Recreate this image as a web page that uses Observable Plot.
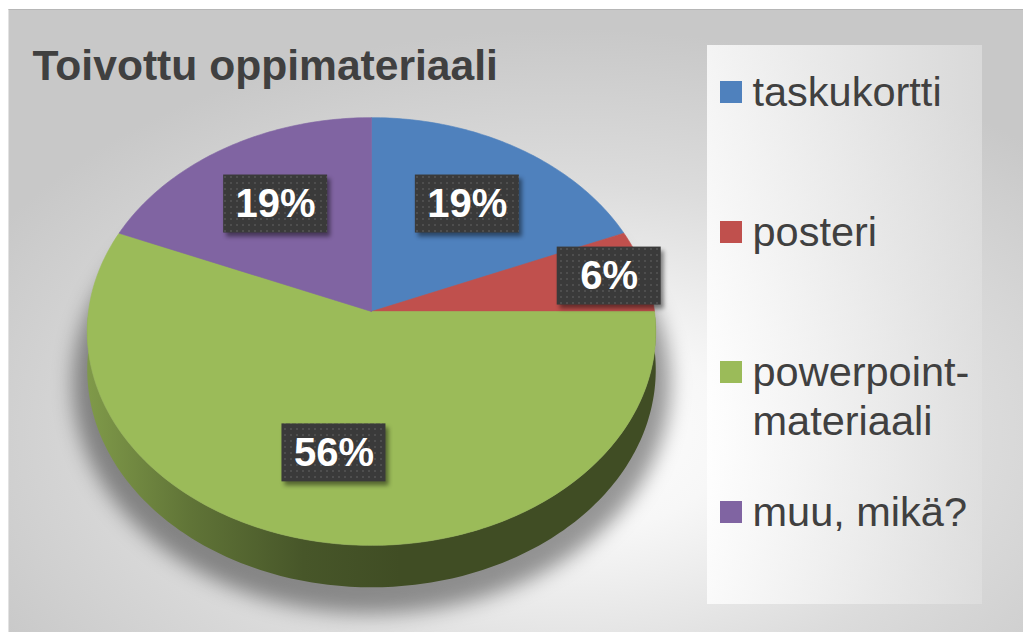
<!DOCTYPE html>
<html>
<head>
<meta charset="utf-8">
<script src="https://cdn.jsdelivr.net/npm/d3@7"></script>
<script src="https://cdn.jsdelivr.net/npm/@observablehq/plot@0.6"></script>
<style>
html, body { margin: 0; padding: 0; background: #ffffff; }
#wrap { position: relative; width: 1023px; height: 632px; overflow: hidden; background: #fff; }
#panel { position: absolute; left: 8px; top: 9px; width: 1015px; height: 623px; box-sizing: border-box;
  border-top: 1px solid #b6b6b6; border-left: 1px solid #e2e2e2;
  background: radial-gradient(ellipse 65% 65% at 55% 68%, #ffffff 0%, #f7f7f7 25%, #dcdcdc 62%, #c8c8c8 100%); }
#legendPanel { position: absolute; left: 707px; top: 45px; width: 275px; height: 559px;
  background: linear-gradient(to right, rgba(255,255,255,0.8), rgba(224,224,224,0.7)); }
#chart { position: absolute; left: 0; top: 0; }
</style>
</head>
<body>
<div id="wrap"><div id="panel"></div><div id="legendPanel"></div><div id="chart"></div></div>
<script>
// ---- data ----
const title = "Toivottu oppimateriaali";
const categories = ["taskukortti", "posteri", "powerpoint-materiaali", "muu, mikä?"];
const counts = [3, 1, 9, 3];
const colors = ["#4F81BD", "#C0504D", "#9BBB59", "#8064A2"];

// ---- geometry (3D perspective pie) ----
const W = 1023, H = 632;
const cx = 371, cy = 311, rx = 283, ry = 212, persp = 0.0935, depth = 38;
function proj(theta, r = 1, dz = 0) {
  const u = r * Math.sin(theta), v = r * Math.cos(theta);
  const s = 1 / (1 + persp * v);
  return [cx + rx * u * s, cy - ry * v * s + dz * s];
}
function arcPts(a0, a1, r, dz) {
  const n = Math.max(2, Math.ceil(Math.abs(a1 - a0) / (Math.PI / 180)));
  const pts = [];
  for (let j = 0; j <= n; ++j) pts.push(proj(a0 + (a1 - a0) * j / n, r, dz));
  return pts;
}

const total = d3.sum(counts);
const slices = categories.map((cat, i) => ({cat, i, count: counts[i], label: Math.round(counts[i] / total * 100) + "%"}));
const arcs = d3.pie().sort(null).value(d => d.count).startAngle(0).endAngle(2 * Math.PI)(slices);

// top faces
const topRows = arcs.flatMap(a => {
  const pts = [proj(0, 0), ...arcPts(a.startAngle, a.endAngle, 1, 0), proj(0, 0)];
  return pts.map(p => ({cat: a.data.cat, x: p[0], y: p[1]}));
});

// side faces (front half visible)
const sideMarks = [];
arcs.forEach(a => {
  const s0 = Math.max(a.startAngle, Math.PI / 2), s1 = Math.min(a.endAngle, 3 * Math.PI / 2);
  if (s0 < s1) {
    const pts = [...arcPts(s0, s1, 1, 0), ...arcPts(s1, s0, 1, depth)];
    sideMarks.push(Plot.line(pts.map(p => ({x: p[0], y: p[1]})), {x: "x", y: "y", fill: `url(#side-${a.data.i})`, stroke: "none", curve: "linear"}));
  }
});

// shadow
const shadowRows = arcPts(0, 2 * Math.PI, 1.05, depth + 12).map(p => ({x: p[0], y: p[1]}));

// data labels
const labelRows = arcs.map(a => {
  const m = (a.startAngle + a.endAngle) / 2;
  const share = a.data.count / total;
  const p = proj(m, share >= 0.15 ? 0.64 : 0.87, 0);
  return {cat: a.data.cat, label: a.data.label, x: p[0], y: p[1]};
});

// legend rows
const legendX = 720, legendTop = 92, legendStep = 140, sq = 22;
const legendSquares = categories.map((cat, i) => ({cat, yc: legendTop + i * legendStep}));
const legendLines = categories.flatMap((cat, i) =>
  cat.split(/(?<=-)/).map((line, j) => ({cat, line, y: legendTop + i * legendStep + 13 + j * 49})));

const font = "'Liberation Sans', Arial, Helvetica, sans-serif";

const chart = Plot.plot({
  width: W, height: H, margin: 0,
  x: {domain: [0, W], range: [0, W], axis: null},
  y: {domain: [0, H], range: [0, H], axis: null},
  color: {domain: categories, range: colors},
  style: {background: "transparent", fontFamily: font},
  marks: [
    Plot.line(shadowRows, {x: "x", y: "y", fill: "url(#pieShadowFill)", stroke: "none", curve: "linear"}),
    ...sideMarks,
    Plot.line(topRows, {x: "x", y: "y", z: "cat", fill: "cat", stroke: "cat", strokeWidth: 0.6, curve: "linear"}),
    Plot.rect(labelRows, {x1: d => d.x - 52, x2: d => d.x + 52, y1: d => d.y - 29, y2: d => d.y + 29, fill: "url(#dots)"}),
    Plot.text(labelRows, {x: "x", y: "y", text: "label", fill: "white", fontSize: 40, fontWeight: "bold", textAnchor: "middle", lineAnchor: "middle"}),
    Plot.rect(legendSquares, {x1: legendX, x2: legendX + sq, y1: d => d.yc - sq / 2, y2: d => d.yc + sq / 2, fill: "cat"}),
    Plot.text(legendLines, {x: legendX + 32, y: "y", text: "line", fill: "#404040", fontSize: 41.5, textAnchor: "start", lineAnchor: "bottom"}),
    Plot.text([title], {x: 32, y: 79, text: d => d, fill: "#404040", fontSize: 42.6, fontWeight: "bold", textAnchor: "start", lineAnchor: "bottom"})
  ]
});

// defs: gradients, pattern
const svg = d3.select(chart.tagName.toLowerCase() === "svg" ? chart : chart.querySelector("svg"));
const defs = svg.insert("defs", ":first-child");
categories.forEach((cat, i) => {
  const c = d3.rgb(colors[i]);
  const sh = f => d3.rgb(c.r * f, c.g * f, c.b * f).formatHex();
  const g = defs.append("linearGradient").attr("id", `side-${i}`).attr("gradientUnits", "userSpaceOnUse")
    .attr("x1", cx - rx).attr("x2", cx + rx).attr("y1", 0).attr("y2", 0);
  [[0, 0.82], [0.18, 0.62], [0.38, 0.46], [0.55, 0.41], [1, 0.41]].forEach(([o, f]) =>
    g.append("stop").attr("offset", o).attr("stop-color", sh(f)));
});
const sg = defs.append("linearGradient").attr("id", "pieShadowFill");
sg.append("stop").attr("offset", 0).attr("stop-color", "#000").attr("stop-opacity", 0.4);
sg.append("stop").attr("offset", 1).attr("stop-color", "#000").attr("stop-opacity", 0.4);
const pat = defs.append("pattern").attr("id", "dots").attr("patternUnits", "userSpaceOnUse").attr("width", 6).attr("height", 6);
pat.append("rect").attr("width", 6).attr("height", 6).attr("fill", "#3a3a3a");
pat.append("circle").attr("cx", 3).attr("cy", 3).attr("r", 0.9).attr("fill", "#575757");

svg.selectAll('[fill="url(#pieShadowFill)"]').style("filter", "blur(10px)");
svg.selectAll('[fill="url(#dots)"]').style("filter", "drop-shadow(3px 4px 2px rgba(0,0,0,0.45))");

document.getElementById("chart").appendChild(chart);
</script>
</body>
</html>
